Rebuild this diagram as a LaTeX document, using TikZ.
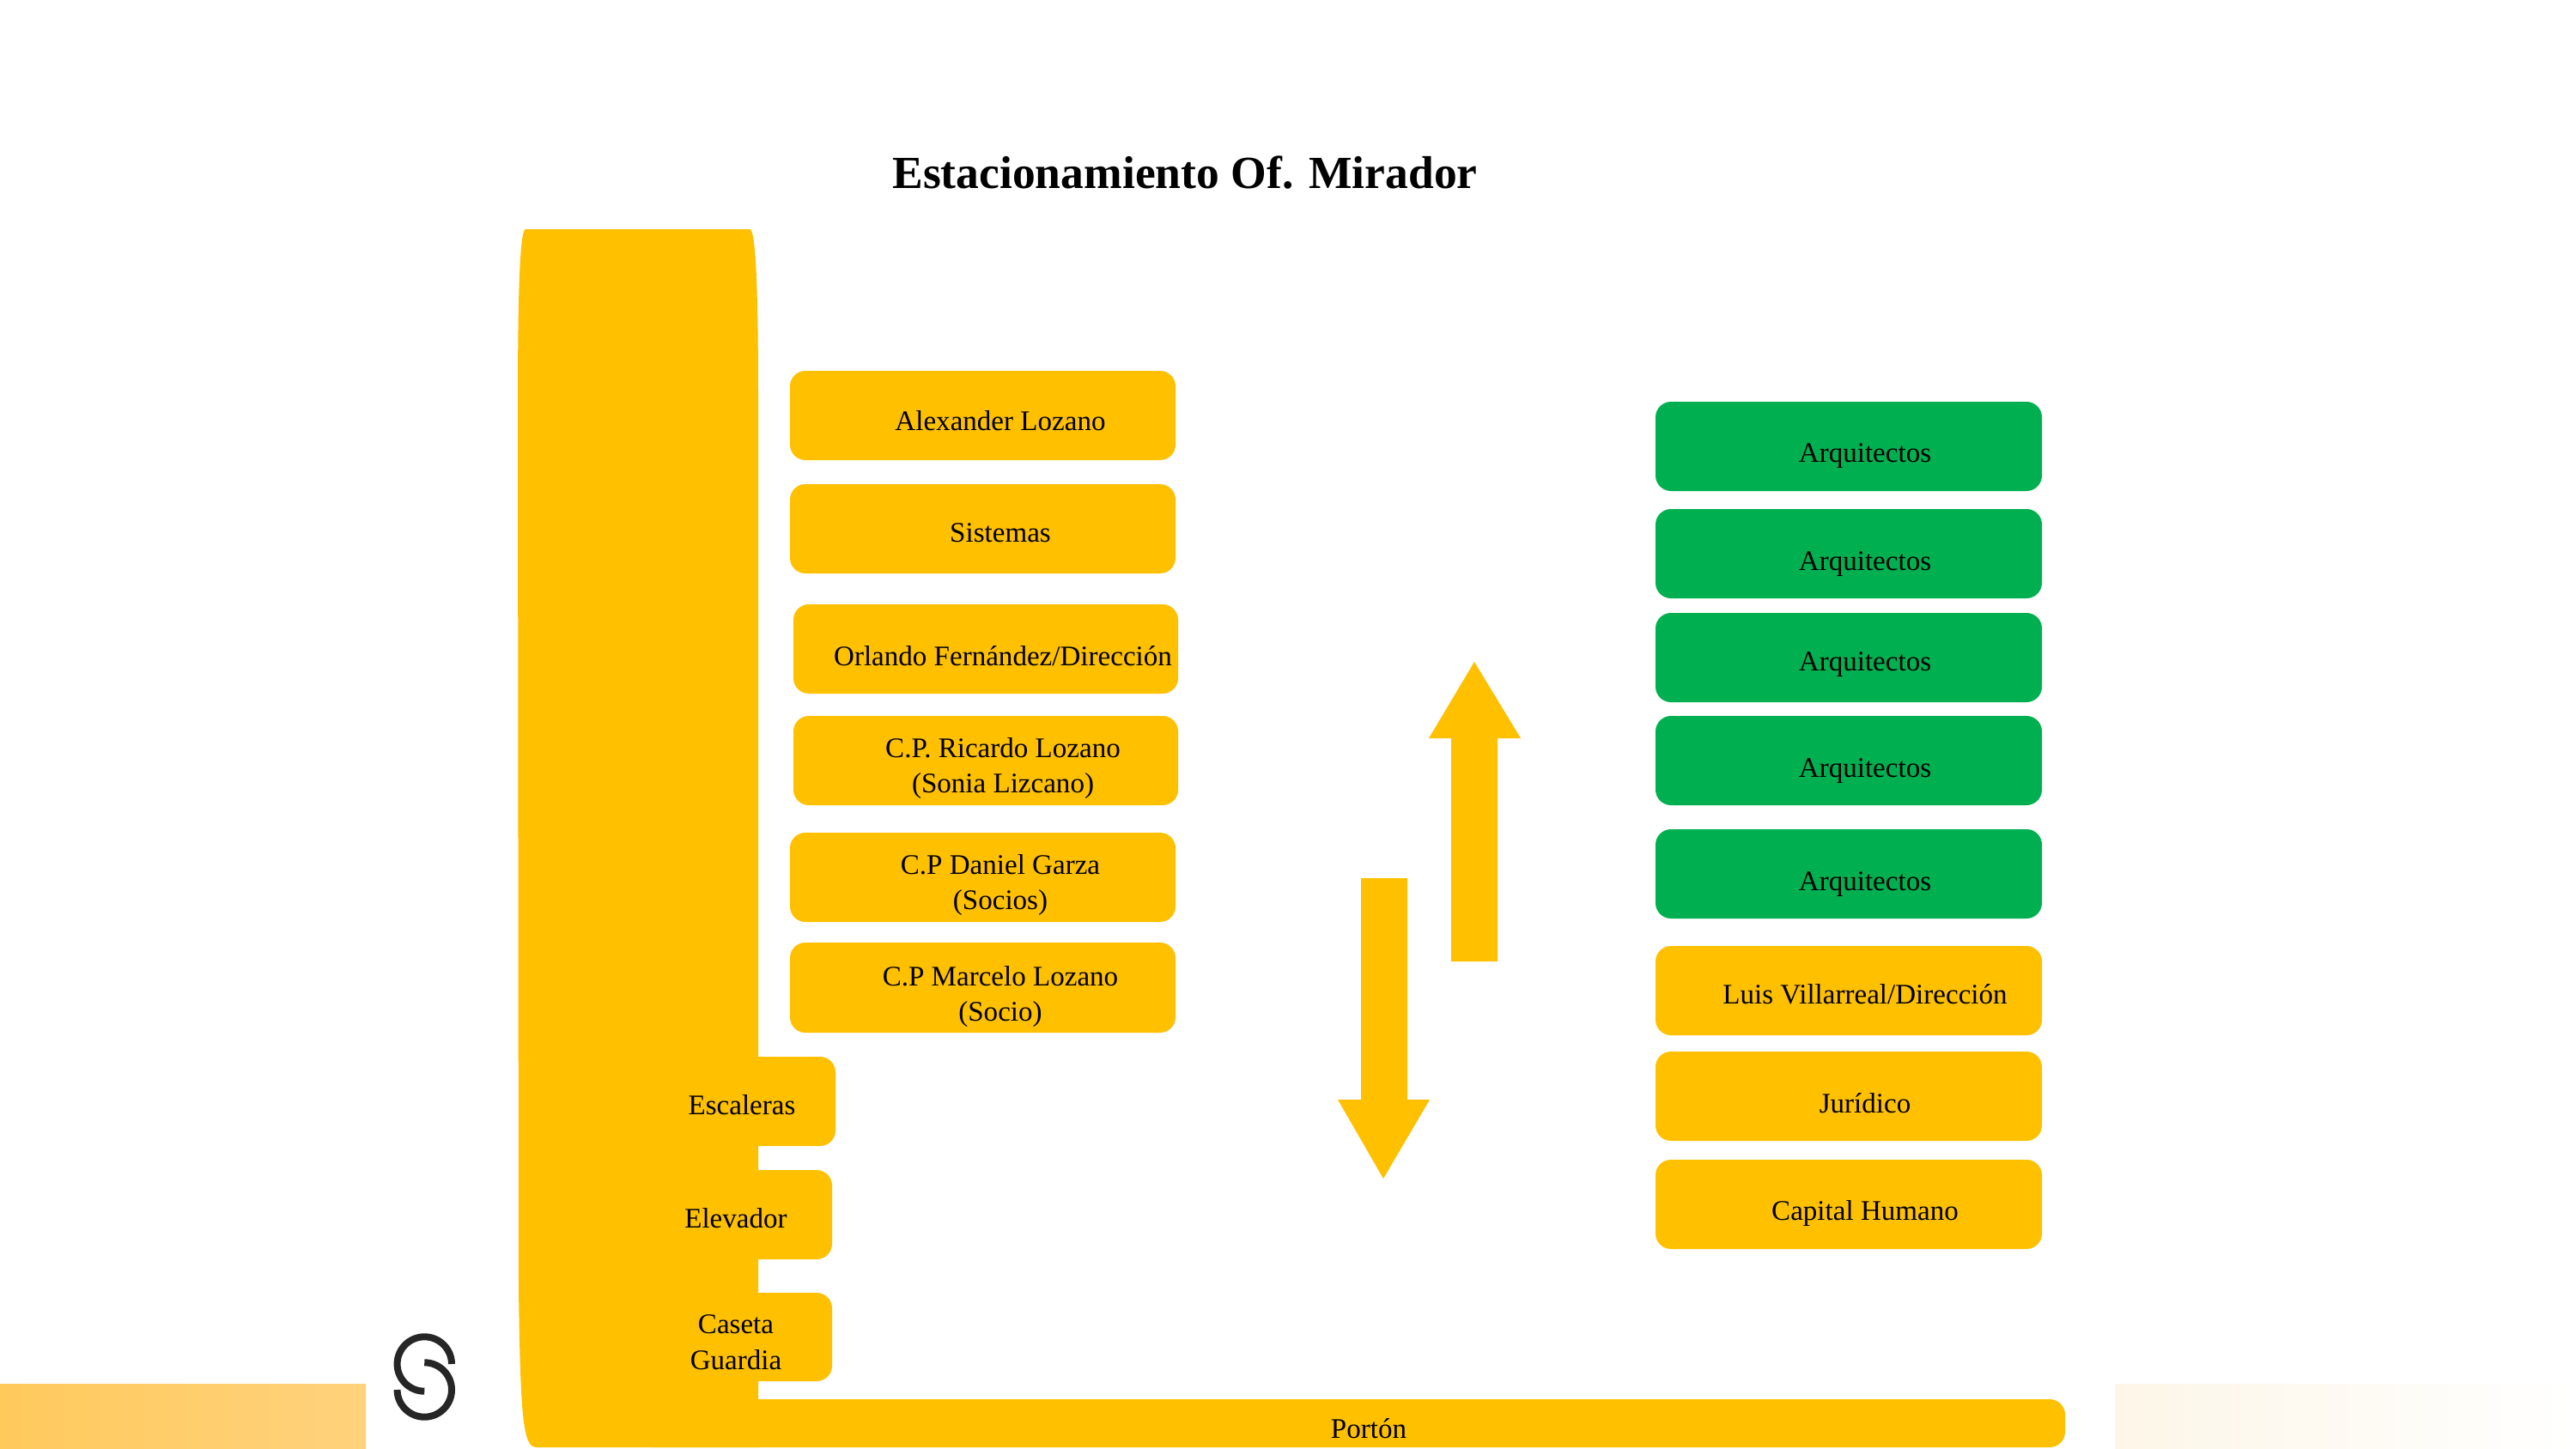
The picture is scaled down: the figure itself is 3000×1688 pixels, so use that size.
\documentclass[tikz,border=0pt]{standalone}
\usepackage{fontspec}
\setmainfont{Liberation Serif}
\definecolor{amber}{HTML}{FFC000}
\definecolor{leaf}{HTML}{00B050}
\definecolor{logoink}{HTML}{262626}
\tikzset{
  x=0.01cm,y=-0.01cm,
  slot/.style={inner sep=0,outer sep=0,rounded corners=0.18cm,draw=none,rectangle},
  lbl/.style={font=\fontsize{9.4pt}{11.9pt}\selectfont,align=center,text=black,inner sep=0},
  logostroke/.style={line width=0.08cm,color=logoink,line cap=butt}
}
\newcommand{\slotbox}[6]{%
  \node[slot,fill=#6,minimum width={(#4-#2)*0.01cm},minimum height={(#5-#3)*0.01cm}] (#1) at ({(#2+#4)/2},{(#3+#5)/2}) {};
}
\begin{document}
\begin{tikzpicture}
\useasboundingbox (0,0) rectangle (3000,1688);
\fill[white] (0,0) rectangle (3000,1688);
\definecolor{bandA}{HTML}{FFC95C}
\definecolor{bandB}{HTML}{FFD27C}
\definecolor{bandC}{HTML}{FDF6E8}
\shade[left color=bandA,right color=bandB] (0,1612) rectangle (426,1688);
\shade[left color=bandC,right color=white] (2463,1612) rectangle (3000,1688);
% logo
\draw[logostroke] (526,1589) .. controls (526,1571.5) and (511.8,1557.3) .. (494.3,1557.3) .. controls (476.8,1557.3) and (462.6,1571.5) .. (462.6,1589) .. controls (462.6,1606.5) and (476.8,1620.7) .. (494.3,1620.7);
\draw[logostroke] (494.3,1587.3) .. controls (511.8,1587.3) and (526,1601.5) .. (526,1619) .. controls (526,1636.5) and (511.8,1650.7) .. (494.3,1650.7) .. controls (476.8,1650.7) and (462.6,1636.5) .. (462.6,1619);
% main bar
\fill[amber] (612,267) -- (873,267) .. controls (880,267) and (883,330) .. (883,470) -- (883,1686) -- (625,1686) .. controls (610,1686) and (606,1660) .. (604,1500) -- (603,470) .. controls (603,330) and (606,267) .. (612,267) -- cycle;
\slotbox{portonbox}{740}{1630}{2405}{1686}{amber}
\slotbox{escbox}{840}{1231}{973}{1335}{amber}
\slotbox{elevbox}{840}{1363}{969}{1467}{amber}
\slotbox{casetabox}{840}{1506}{969}{1609}{amber}
\slotbox{a1}{920}{432}{1369}{536}{amber}
\slotbox{a2}{920}{564}{1369}{668}{amber}
\slotbox{a3}{924}{704}{1372}{808}{amber}
\slotbox{a4}{924}{834}{1372}{938}{amber}
\slotbox{a5}{920}{970}{1369}{1074}{amber}
\slotbox{a6}{920}{1098}{1369}{1203}{amber}
\slotbox{g1}{1928}{468}{2378}{572}{leaf}
\slotbox{g2}{1928}{593}{2378}{697}{leaf}
\slotbox{g3}{1928}{714}{2378}{818}{leaf}
\slotbox{g4}{1928}{834}{2378}{938}{leaf}
\slotbox{g5}{1928}{966}{2378}{1070}{leaf}
\slotbox{b1}{1928}{1102}{2378}{1206}{amber}
\slotbox{b2}{1928}{1225}{2378}{1329}{amber}
\slotbox{b3}{1928}{1351}{2378}{1455}{amber}
% arrows
\fill[amber] (1717,771) -- (1771,860) -- (1744,860) -- (1744,1120) -- (1690,1120) -- (1690,860) -- (1664,860) -- cycle;
\fill[amber] (1611,1373) -- (1558,1281) -- (1585,1281) -- (1585,1023) -- (1639,1023) -- (1639,1281) -- (1665,1281) -- cycle;
% text
\node[font=\bfseries\fontsize{15.23pt}{18pt}\selectfont,inner sep=0] (title) at (1380,201) {Estacionamiento Of. Mirador};
\node[lbl] (t1) at (1165,490) {Alexander Lozano};
\node[lbl] (t2) at (1165,621) {Sistemas};
\node[lbl] (t3) at (1168,764) {Orlando Fernández/Dirección};
\node[lbl] (t4) at (1168,895) {C.P. Ricardo Lozano\\(Sonia Lizcano)};
\node[lbl] (t5) at (1165,1031) {C.P Daniel Garza\\(Socios)};
\node[lbl] (t6) at (1165,1161) {C.P Marcelo Lozano\\(Socio)};
\node[lbl] (t7) at (864,1287) {Escaleras};
\node[lbl] (t8) at (857,1419) {Elevador};
\node[lbl] (t9) at (857,1564) {Caseta\\Guardia};
\node[lbl] (t10) at (1594,1664) {Portón};
\node[lbl] (u1) at (2172,531) {Arquitectos};
\node[lbl] (u2) at (2172,657) {Arquitectos};
\node[lbl] (u3) at (2172,774) {Arquitectos};
\node[lbl] (u4) at (2172,898) {Arquitectos};
\node[lbl] (u5) at (2172,1030) {Arquitectos};
\node[lbl] (u6) at (2172,1158) {Luis Villarreal/Dirección};
\node[lbl] (u7) at (2172,1285) {Jurídico};
\node[lbl] (u8) at (2172,1414) {Capital Humano};
\end{tikzpicture}
\end{document}
